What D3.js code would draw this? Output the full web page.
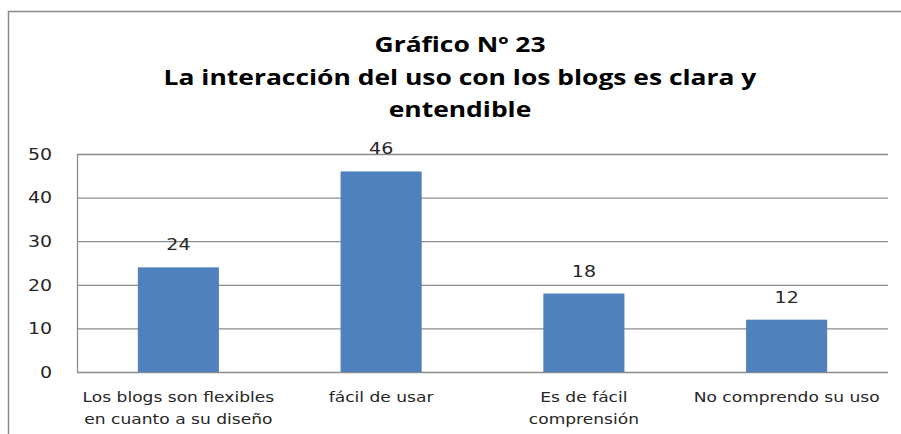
<!DOCTYPE html>
<html>
<head>
<meta charset="utf-8">
<script src="https://cdn.jsdelivr.net/npm/d3@7"></script>
<style>
  html, body { margin: 0; padding: 0; background: #fff; }
  svg { display: block; }
</style>
</head>
<body>
<div id="chart-area"></div>
<script>
const titleLines = ["Gráfico Nº 23", "La interacción del uso con los blogs es clara y", "entendible"];
const categories = ["blogsFlexibles", "facilUsar", "facilComprension", "noComprendo"];
const categoryLabels = [
  ["Los blogs son flexibles", "en cuanto a su diseño"],
  ["fácil de usar"],
  ["Es de fácil", "comprensión"],
  ["No comprendo su uso"]
];
const values = [24, 46, 18, 12];
const yTicks = [0, 10, 20, 30, 40, 50];

const width = 901, height = 434;
const margin = { top: 154, right: 13, bottom: 62, left: 77 };
const sx = 1.15; // the source picture is stretched sideways

const svg = d3.select("#chart-area").append("svg")
  .attr("width", width)
  .attr("height", height);

// outer chart frame
svg.append("path")
  .attr("d", "M8.5," + height + "V11.5H" + width)
  .attr("fill", "none")
  .attr("stroke", "#8a8a8a")
  .attr("stroke-width", 1.5);

const title = svg.append("g")
  .attr("font-family", "'Open Sans', Lato, sans-serif")
  .attr("font-weight", "bold")
  .attr("font-size", 20.5)
  .attr("fill", "#000");

title.selectAll("text")
  .data(titleLines)
  .enter().append("text")
  .attr("text-anchor", "middle")
  .attr("transform", (d, i) => "translate(460," + (52 + i * 32.5) + ") scale(1.29,1)")
  .text(d => d);

const innerW = width - margin.left - margin.right;
const innerH = height - margin.top - margin.bottom;

const x = d3.scaleBand()
  .domain(categories)
  .range([0, innerW])
  .paddingInner(0.6)
  .paddingOuter(0.3);

const y = d3.scaleLinear()
  .domain([0, 50])
  .range([innerH, 0]);

const g = svg.append("g")
  .attr("transform", "translate(" + margin.left + "," + margin.top + ")");

// gridlines
const grid = g.append("g")
  .call(d3.axisLeft(y).tickValues(yTicks).tickSize(-innerW).tickFormat(""));
grid.select(".domain").remove();
grid.selectAll("line")
  .attr("stroke", "#8c8c8c")
  .attr("stroke-width", 1.3);

// y axis
const yAxis = g.append("g")
  .call(d3.axisLeft(y).tickValues(yTicks).tickSize(0).tickPadding(25 / sx));
yAxis.select(".domain")
  .attr("stroke", "#8c8c8c")
  .attr("stroke-width", 1.3);
yAxis.selectAll("text")
  .attr("font-family", "'DejaVu Sans', Verdana, sans-serif")
  .attr("font-size", 16.5)
  .attr("fill", "#262626")
  .attr("transform", "scale(" + sx + ",1)");

// bars
g.selectAll(".bar")
  .data(values)
  .enter().append("rect")
  .attr("class", "bar")
  .attr("x", (d, i) => x(categories[i]))
  .attr("y", d => y(d))
  .attr("width", x.bandwidth())
  .attr("height", d => innerH - y(d))
  .attr("fill", "#4f81bd");

// value labels
g.selectAll(".val")
  .data(values)
  .enter().append("text")
  .attr("class", "val")
  .attr("text-anchor", "middle")
  .attr("font-family", "'DejaVu Sans', Verdana, sans-serif")
  .attr("font-size", 16.5)
  .attr("fill", "#262626")
  .attr("transform", (d, i) => "translate(" + (x(categories[i]) + x.bandwidth() / 2) + "," + (y(d) - 17) + ") scale(" + sx + ",1)")
  .text(d => d);

// category labels
const cat = g.selectAll(".cat")
  .data(categoryLabels)
  .enter().append("g")
  .attr("class", "cat")
  .attr("transform", (d, i) => "translate(" + (x(categories[i]) + x.bandwidth() / 2) + "," + (innerH + 30) + ")");

cat.selectAll("text")
  .data(d => d)
  .enter().append("text")
  .attr("text-anchor", "middle")
  .attr("font-family", "'DejaVu Sans', Verdana, sans-serif")
  .attr("font-size", 14)
  .attr("fill", "#262626")
  .attr("transform", (d, i) => "translate(0," + (i * 22) + ") scale(1.22,1)")
  .text(d => d);
</script>
</body>
</html>
